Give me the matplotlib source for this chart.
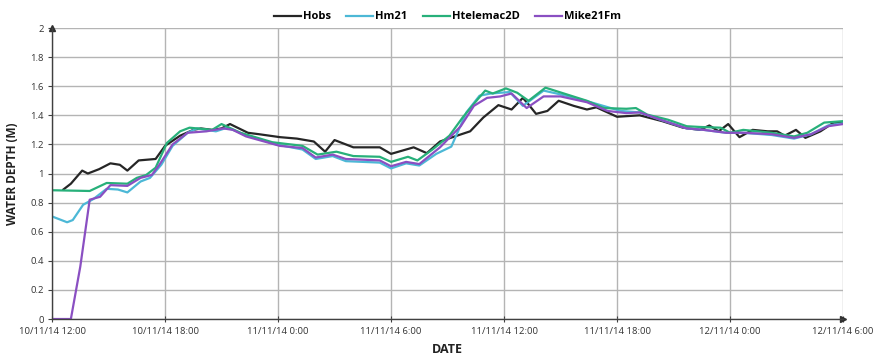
import matplotlib
matplotlib.use("Agg")
import matplotlib.pyplot as plt
import matplotlib.dates as mdates
import pandas as pd

# Start of the record
t0 = pd.Timestamp("2014-11-10 12:00")

# Observed water depth (hours after start, metres)
hobs_h = [0.6, 1.0, 1.6, 1.9, 2.5, 3.1, 3.6, 4.0, 4.6, 5.5, 6.0, 6.8, 7.5, 7.9, 8.5, 9.0, 9.45,
          10.4, 11.0, 12.1, 13.0, 13.9, 14.5, 15.0, 16.0, 17.4, 18.0, 19.2, 19.9, 20.6, 21.5,
          22.2, 22.9, 23.7, 24.4, 25.0, 25.3, 25.7, 26.3, 26.9, 27.7, 28.4, 28.9, 30.0, 31.2,
          32.4, 33.5, 34.4, 34.9, 35.4, 35.9, 36.5, 37.2, 38.0, 38.5, 38.9, 39.5, 40.0, 40.8,
          41.5, 42.0]
hobs_v = [0.89, 0.93, 1.02, 1.00, 1.03, 1.07, 1.06, 1.02, 1.09, 1.10, 1.19, 1.26, 1.30, 1.31,
          1.30, 1.31, 1.34, 1.28, 1.27, 1.25, 1.24, 1.22, 1.15, 1.23, 1.18, 1.18, 1.135, 1.18,
          1.14, 1.22, 1.26, 1.29, 1.385, 1.47, 1.44, 1.52, 1.475, 1.41, 1.43, 1.50, 1.465, 1.44,
          1.455, 1.39, 1.40, 1.36, 1.315, 1.30, 1.33, 1.29, 1.34, 1.25, 1.30, 1.29, 1.29, 1.26,
          1.30, 1.245, 1.29, 1.35, 1.345]

# MIKE 21 HD model
hm21_h = [0.0, 0.8, 1.1, 1.65, 2.2, 2.9, 3.5, 4.0, 4.7, 5.2, 5.8, 6.4, 7.2, 7.7, 8.7, 9.3,
          10.2, 11.9, 13.3, 14.0, 14.9, 15.6, 17.4, 18.0, 18.8, 19.5, 20.4, 21.2, 22.0, 22.7,
          23.3, 24.3, 25.0, 26.1, 27.3, 28.6, 30.2, 31.2, 32.3, 33.7, 34.6, 35.8, 36.7, 38.2,
          39.4, 40.3, 41.2, 42.0]
hm21_v = [0.705, 0.665, 0.68, 0.785, 0.825, 0.895, 0.89, 0.87, 0.945, 0.97, 1.06, 1.19, 1.28,
          1.31, 1.29, 1.315, 1.27, 1.20, 1.165, 1.10, 1.12, 1.085, 1.075, 1.035, 1.07, 1.055,
          1.135, 1.185, 1.42, 1.535, 1.55, 1.56, 1.465, 1.57, 1.535, 1.49, 1.43, 1.42, 1.37,
          1.31, 1.30, 1.28, 1.28, 1.265, 1.24, 1.27, 1.33, 1.345]

# TELEMAC-2D model
htel_h = [0.0, 2.0, 2.9, 4.0, 4.5, 5.0, 5.5, 6.1, 6.8, 7.3, 8.5, 9.0, 10.0, 11.7, 13.3, 14.1,
          15.1, 16.0, 17.4, 18.0, 18.9, 19.4, 20.2, 21.1, 21.8, 22.6, 23.0, 23.4, 24.1, 24.7,
          25.3, 26.2, 27.3, 28.4, 29.3, 30.5, 31.0, 31.6, 32.7, 33.7, 34.4, 35.5, 36.0, 36.7,
          38.2, 39.4, 40.1, 41.0, 42.0]
htel_v = [0.885, 0.88, 0.935, 0.93, 0.97, 0.99, 1.04, 1.21, 1.29, 1.315, 1.30, 1.34, 1.28,
          1.215, 1.19, 1.13, 1.15, 1.12, 1.115, 1.08, 1.115, 1.09, 1.165, 1.26, 1.385, 1.51,
          1.57, 1.55, 1.585, 1.555, 1.50, 1.59, 1.545, 1.50, 1.45, 1.445, 1.45, 1.405, 1.37,
          1.325, 1.32, 1.315, 1.28, 1.30, 1.28, 1.255, 1.28, 1.35, 1.36]

# MIKE 21 FM model
mike_h = [0.0, 1.0, 1.5, 2.0, 2.55, 3.1, 4.0, 4.7, 5.3, 5.7, 6.4, 7.2, 8.2, 9.1, 9.6, 10.3,
          12.1, 13.3, 14.0, 14.9, 15.6, 17.4, 18.0, 18.8, 19.5, 20.6, 21.7, 22.4, 23.1, 23.8,
          24.4, 25.2, 26.1, 27.0, 28.4, 29.5, 30.5, 31.2, 32.3, 33.7, 34.6, 35.8, 36.7, 38.2,
          39.4, 40.3, 41.2, 42.0]
mike_v = [0.0, 0.0, 0.36, 0.82, 0.84, 0.92, 0.915, 0.97, 0.99, 1.06, 1.20, 1.28, 1.29, 1.31,
          1.30, 1.255, 1.19, 1.175, 1.11, 1.13, 1.10, 1.09, 1.05, 1.08, 1.065, 1.18, 1.325,
          1.465, 1.52, 1.53, 1.55, 1.45, 1.53, 1.53, 1.49, 1.43, 1.415, 1.42, 1.37, 1.31, 1.30,
          1.28, 1.28, 1.27, 1.245, 1.27, 1.325, 1.34]

series = [
    ("Hobs", hobs_h, hobs_v, "#262626"),
    ("Hm21", hm21_h, hm21_v, "#4cb8d6"),
    ("Htelemac2D", htel_h, htel_v, "#27b07a"),
    ("Mike21Fm", mike_h, mike_v, "#8a4fc2"),
]

tick_hours = [0, 6, 12, 18, 24, 30, 36, 42]
tick_labels = ["10/11/14 12:00", "10/11/14 18:00", "11/11/14 0:00", "11/11/14 6:00",
               "11/11/14 12:00", "11/11/14 18:00", "12/11/14 0:00", "12/11/14 6:00"]
y_ticks = [0, 0.2, 0.4, 0.6, 0.8, 1, 1.2, 1.4, 1.6, 1.8, 2]
y_labels = ["0", "0.2", "0.4", "0.6", "0.8", "1", "1.2", "1.4", "1.6", "1.8", "2"]

plt.rcParams["font.family"] = ["Open Sans", "DejaVu Sans"]

fig = plt.figure(figsize=(8.79, 3.64), dpi=100)
ax = fig.add_axes([0.0592, 0.1236, 0.8999, 0.7994])

to_time = lambda hs: [t0 + pd.Timedelta(hours=h) for h in hs]

for name, hs, vs, col in series:
    ax.plot(to_time(hs), vs, color=col, lw=1.6, label=name, solid_joinstyle="round")

ax.set_xlim(t0, t0 + pd.Timedelta(hours=42))
ax.set_ylim(0, 2)
ax.set_xticks(to_time(tick_hours))
ax.set_xticklabels(tick_labels, fontsize=6.8, color="#333333")
ax.set_yticks(y_ticks)
ax.set_yticklabels(y_labels, fontsize=6.8, color="#333333")

ax.grid(True, color="#b4b4b4", lw=1.0)
ax.set_axisbelow(True)
for s in ["top", "right"]:
    ax.spines[s].set_visible(False)
for s in ["left", "bottom"]:
    ax.spines[s].set_color("#404040")
    ax.spines[s].set_linewidth(1.0)
ax.tick_params(axis="x", length=4, direction="inout", color="#404040", pad=4)
ax.tick_params(axis="y", length=3, direction="out", color="#404040", pad=3)

# Arrow heads on the axes
ax.plot(1, 0, ">", transform=ax.transAxes, color="#303030", ms=4, clip_on=False)
ax.plot(0, 1, "^", transform=ax.transAxes, color="#303030", ms=4, clip_on=False)

ax.set_xlabel("DATE", fontsize=9, fontweight="bold", color="#222222", labelpad=5)
ax.set_ylabel("WATER DEPTH (M)", fontsize=8.5, fontweight="bold", color="#222222", labelpad=8)

leg = ax.legend(loc="lower center", bbox_to_anchor=(0.5, 1.0), ncol=4, frameon=False,
                fontsize=8, handlelength=2.4, handletextpad=0.2, columnspacing=1.4,
                borderaxespad=0.1, prop={"weight": "bold", "size": 8})

fig.savefig("out.png", dpi=100)
